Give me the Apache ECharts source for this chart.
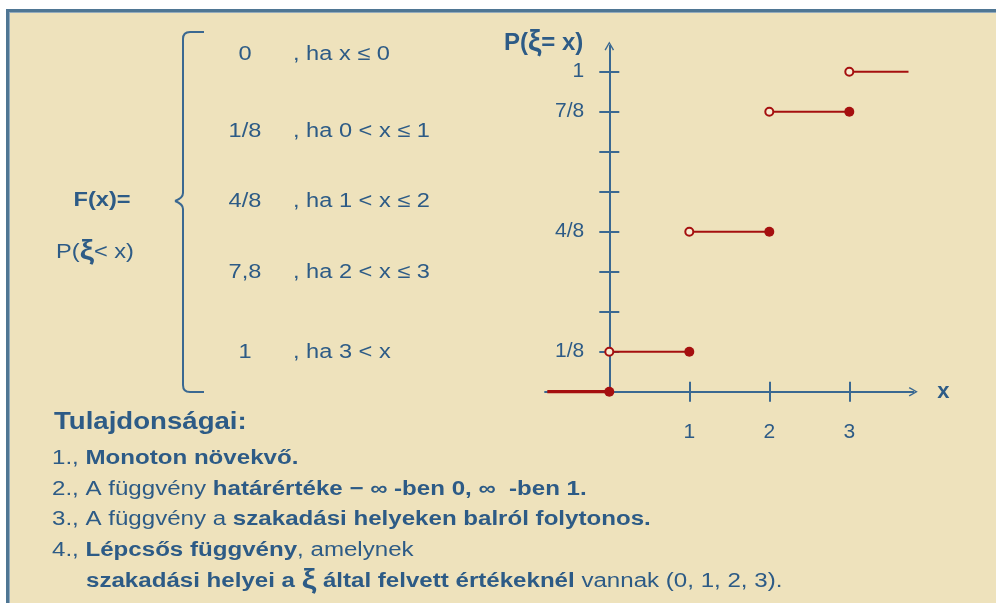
<!DOCTYPE html>
<html>
<head>
<meta charset="utf-8">
<script src="https://cdn.jsdelivr.net/npm/echarts@6/dist/echarts.min.js"></script>
<style>
  html, body { margin: 0; padding: 0; background: #ffffff; width: 996px; height: 603px; overflow: hidden; }
  #frame { position: absolute; left: 6px; top: 9px; right: 0; bottom: 0;
           background: #eee2bc; border-top: 3px solid #4f7694; border-left: 3px solid #4f7694;
           box-shadow: inset 1px 1px 0 #93abbd; }
  #chart { position: absolute; left: 0; top: 0; width: 996px; height: 603px; }
</style>
</head>
<body>
<div id="frame"></div>
<div id="chart"></div>
<script>
// ---- data ----
const jumpPoints   = [0, 1, 2, 3];               // discontinuities of F
const levelsBefore = [0, 0.125, 0.5, 0.875];     // F value at the jump point (filled dot)
const levelsAfter  = [0.125, 0.5, 0.875, 1];     // F value just right of the jump (open dot)
const tailStart = -0.775;                        // left end of drawn 0-level
const tailEnd = 3.74;                            // right end of drawn 1-level
const yTickValues  = [0.125, 0.25, 0.375, 0.5, 0.625, 0.75, 0.875, 1];
const yLabelValues = [0.125, 0.5, 0.875, 1];
const yLabelTexts  = ['1/8', '4/8', '7/8', '1'];
const xTickValues  = [1, 2, 3];
const caseValues     = ['0', '1/8', '4/8', '7,8', '1'];
const caseConditions = [', ha x ≤ 0', ', ha 0 < x ≤ 1', ', ha 1 < x ≤ 2', ', ha 2 < x ≤ 3', ', ha 3 < x'];

// ---- style ----
const BLUE = '#2d5b86';
const AXIS = '#3a6891';
const RED = '#a50f0f';
const FONT = '"Liberation Sans", Arial, sans-serif';
const SX = 1.18;
const SXB = 1.205;

const chart = echarts.init(document.getElementById('chart'), null, { renderer: 'canvas' });

// build segments
const segments = [];
segments.push([[tailStart, levelsBefore[0]], [jumpPoints[0], levelsBefore[0]]]);
for (let i = 0; i < jumpPoints.length - 1; i++) {
  segments.push([[jumpPoints[i], levelsAfter[i]], [jumpPoints[i + 1], levelsBefore[i + 1]]]);
}
segments.push([[jumpPoints[jumpPoints.length - 1], levelsAfter[levelsAfter.length - 1]],
               [tailEnd, levelsAfter[levelsAfter.length - 1]]]);

const series = segments.map((seg, i) => ({
  type: 'line', data: seg, symbol: 'none', z: 3, silent: true,
  lineStyle: { color: RED, width: i === 0 ? 3.5 : 2 }
}));
series.push({
  type: 'scatter', z: 5, symbolSize: 8,
  data: jumpPoints.map((x, i) => [x, levelsAfter[i]]),
  itemStyle: { color: '#f6ecd2', borderColor: RED, borderWidth: 2, opacity: 1 }
});
series.push({
  type: 'scatter', z: 5, symbolSize: 10,
  data: jumpPoints.map((x, i) => [x, levelsBefore[i]]),
  itemStyle: { color: RED, opacity: 1 }
});

const arrowPath = 'path://M5,0 L10,8.6 L8.7,9.4 L5,2.6 L1.3,9.4 L0,8.6 Z';

function yLabelFmt(v) {
  for (let i = 0; i < yLabelValues.length; i++) {
    if (Math.abs(yLabelValues[i] - v) < 1e-6) return yLabelTexts[i];
  }
  return '';
}

const caseGraphics = [];
const caseY = [54, 131, 201.5, 272, 352];
caseValues.forEach((t, i) => {
  caseGraphics.push({
    type: 'text', x: 245, y: caseY[i], scaleX: SX,
    style: { text: t, font: '20px ' + FONT, fill: BLUE, align: 'center', verticalAlign: 'middle' }
  });
  caseGraphics.push({
    type: 'text', x: 293, y: caseY[i], scaleX: SX,
    style: { text: caseConditions[i], font: '20px ' + FONT, fill: BLUE, align: 'left', verticalAlign: 'middle' }
  });
});

const richBase = {
  n: { font: '20px ' + FONT, fill: BLUE },
  b: { font: 'bold 20px ' + FONT, fill: BLUE },
  k: { font: 'bold 27px ' + FONT, fill: BLUE, verticalAlign: 'bottom' }
};

const bottomLines = [
  { x: 52, y: 458, t: '{n|1., }{b|Monoton növekvő.}' },
  { x: 52, y: 489, t: '{n|2., A függvény }{b|határértéke − ∞ -ben 0, ∞  -ben 1.}' },
  { x: 52, y: 519.5, t: '{n|3., A függvény a }{b|szakadási helyeken balról folytonos.}' },
  { x: 52, y: 550.5, t: '{n|4., }{b|Lépcsős függvény}{n|, amelynek}' },
  { x: 86, y: 581, t: '{b|szakadási helyei a }{k|ξ}{b| által felvett értékeknél}{n| vannak (0, 1, 2, 3).}' }
];

const braceStyle = { stroke: AXIS, lineWidth: 2, fill: null };
const brace = [
  { type: 'line', shape: { x1: 204, y1: 32, x2: 190, y2: 32 } },
  { type: 'bezierCurve', shape: { x1: 190, y1: 32, cpx1: 183, cpy1: 32, x2: 183, y2: 39 } },
  { type: 'line', shape: { x1: 183, y1: 39, x2: 183, y2: 193 } },
  { type: 'bezierCurve', shape: { x1: 183, y1: 193, cpx1: 183, cpy1: 198, x2: 175, y2: 201 } },
  { type: 'bezierCurve', shape: { x1: 175, y1: 201, cpx1: 183, cpy1: 204, x2: 183, y2: 209 } },
  { type: 'line', shape: { x1: 183, y1: 209, x2: 183, y2: 385 } },
  { type: 'bezierCurve', shape: { x1: 183, y1: 385, cpx1: 183, cpy1: 392, x2: 190, y2: 392 } },
  { type: 'line', shape: { x1: 190, y1: 392, x2: 204, y2: 392 } }
].map(e => Object.assign(e, { silent: true, style: braceStyle }));

const graphics = brace.concat([
  {
    type: 'text', x: 102, y: 200, scaleX: SX,
    style: { text: 'F(x)=', font: 'bold 20px ' + FONT, fill: BLUE, align: 'center', verticalAlign: 'middle' }
  },
  {
    type: 'text', x: 95, y: 252, scaleX: SX,
    style: { text: '{n|P(}{k|ξ}{n|< x)}', rich: richBase, align: 'center', verticalAlign: 'middle' }
  },
  {
    type: 'text', x: 54, y: 422, scaleX: 1.15,
    style: { text: 'Tulajdonságai:', font: 'bold 24px ' + FONT, fill: BLUE, align: 'left', verticalAlign: 'middle' }
  }
]).concat(caseGraphics).concat(bottomLines.map(l => ({
  type: 'text', x: l.x, y: l.y, scaleX: SXB,
  style: { text: l.t, rich: richBase, align: 'left', verticalAlign: 'middle' }
})));

const xMin = -0.8, xMax = 3.8, yMin = 0, yMax = 1.08;

const option = {
  animation: false,
  backgroundColor: 'transparent',
  grid: { left: 545.3, right: 82.7, top: 46.1, bottom: 211.3, containLabel: false },
  xAxis: [
    {
      type: 'value', min: xMin, max: xMax, position: 'bottom',
      name: 'x', nameLocation: 'end', nameGap: 24,
      nameTextStyle: { color: BLUE, fontFamily: FONT, fontWeight: 'bold', fontSize: 22, verticalAlign: 'middle' },
      axisLine: { onZero: true, onZeroAxisIndex: 0, symbol: ['none', arrowPath], symbolSize: [11, 9],
                  lineStyle: { color: AXIS, width: 2 } },
      axisTick: { show: true, length: 10, customValues: xTickValues, lineStyle: { color: AXIS, width: 2 } },
      axisLabel: { show: true, customValues: xTickValues, margin: 30, color: BLUE, fontFamily: FONT, fontSize: 21 },
      splitLine: { show: false }
    },
    {
      type: 'value', min: xMin, max: xMax, position: 'top',
      axisLine: { show: true, onZero: true, onZeroAxisIndex: 0, lineStyle: { color: AXIS, width: 2 } },
      axisTick: { show: true, length: 10, customValues: xTickValues, lineStyle: { color: AXIS, width: 2 } },
      axisLabel: { show: false },
      splitLine: { show: false }
    }
  ],
  yAxis: [
    {
      type: 'value', min: yMin, max: yMax, position: 'left',
      name: '{a|P(}{b|ξ}{a|= x)}', nameLocation: 'end', nameGap: 3,
      nameTextStyle: {
        align: 'right', verticalAlign: 'middle', padding: [0, 26, 0, 0],
        rich: {
          a: { color: BLUE, fontFamily: FONT, fontWeight: 'bold', fontSize: 24 },
          b: { color: BLUE, fontFamily: FONT, fontWeight: 'bold', fontSize: 30 }
        }
      },
      axisLine: { onZero: true, onZeroAxisIndex: 0, symbol: ['none', arrowPath], symbolSize: [11, 9],
                  lineStyle: { color: AXIS, width: 2 } },
      axisTick: { show: true, length: 10, customValues: yTickValues, lineStyle: { color: AXIS, width: 2 } },
      axisLabel: { show: true, customValues: yLabelValues, formatter: yLabelFmt, margin: -39,
                   color: BLUE, fontFamily: FONT, fontSize: 21 },
      splitLine: { show: false }
    },
    {
      type: 'value', min: yMin, max: yMax, position: 'right',
      axisLine: { show: true, onZero: true, onZeroAxisIndex: 0, lineStyle: { color: AXIS, width: 2 } },
      axisTick: { show: true, length: 10, customValues: yTickValues, lineStyle: { color: AXIS, width: 2 } },
      axisLabel: { show: false },
      splitLine: { show: false }
    }
  ],
  graphic: graphics,
  series: series
};
chart.setOption(option);
</script>
</body>
</html>
